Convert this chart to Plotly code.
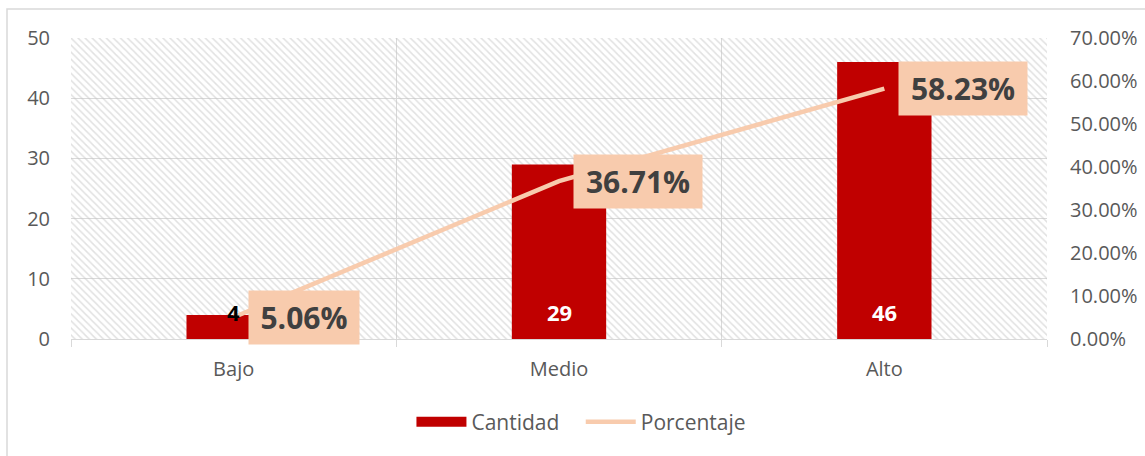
import plotly.graph_objects as go

categorias = ["Bajo", "Medio", "Alto"]
cantidad = [4, 29, 46]
porcentaje = [0.0506, 0.3671, 0.5823]
etiquetas_pct = ["5.06%", "36.71%", "58.23%"]
color_etq = ["#000000", "#ffffff", "#ffffff"]
y_max = 50
y2_max = 0.7

FONT = "Open Sans"
GRID = "#d9d9d9"
RED = "#c00000"
PEACH = "#f8cbad"

fig = go.Figure()

# hatched plot-area background
fig.add_trace(go.Bar(
    x=categorias, y=[y_max] * len(categorias), width=1.0,
    marker=dict(color="rgba(0,0,0,0)", line=dict(width=0),
                pattern=dict(shape="\\", fgcolor="#c4c4c4", bgcolor="rgba(0,0,0,0)",
                             size=5, solidity=0.3)),
    hoverinfo="skip", showlegend=False, xaxis="x", yaxis="y"))

fig.add_trace(go.Bar(
    x=categorias, y=cantidad, name="Cantidad", width=0.29,
    marker=dict(color=RED, line=dict(width=0)), showlegend=False,
    xaxis="x2", yaxis="y"))

# legend swatch for the bars (wide rectangle, as in the original)
fig.add_trace(go.Scatter(
    x=[None], y=[None], name="Cantidad   ", mode="lines",
    line=dict(color=RED, width=14), xaxis="x2", yaxis="y"))

fig.add_trace(go.Scatter(
    x=categorias, y=porcentaje, name="Porcentaje", mode="lines",
    line=dict(color=PEACH, width=4.5),
    xaxis="x2", yaxis="y2"))

annotations = []
for c, v, col in zip(categorias, cantidad, color_etq):
    annotations.append(dict(
        x=c, y=0, xref="x", yref="y", text=f"<b>{v}</b>", showarrow=False,
        yanchor="middle", yshift=27, font=dict(family=FONT, size=22, color=col)))
for c, p, t in zip(categorias, porcentaje, etiquetas_pct):
    annotations.append(dict(
        x=c, y=p, xref="x", yref="y2", text=f"<b>{t}</b>", showarrow=False,
        xanchor="left", yanchor="middle", xshift=14,
        bgcolor=PEACH, borderpad=0, width=len(t) * 18 + 20, height=53,
        font=dict(family=FONT, size=30, color="#404040")))

fig.update_layout(
    width=1145, height=456,
    margin=dict(l=71, r=98, t=38, b=117, autoexpand=False),
    paper_bgcolor="white", plot_bgcolor="white",
    font=dict(family=FONT, color="#595959", size=20),
    barmode="overlay",
    xaxis=dict(type="category", categoryorder="array", categoryarray=categorias,
               range=[-0.5, 2.5], tickson="boundaries", showgrid=True, gridcolor=GRID,
               gridwidth=1, ticks="outside", ticklen=7, tickcolor=GRID,
               showline=True, linecolor=GRID, linewidth=1, ticklabelstandoff=12,
               tickfont=dict(size=20, color="#595959"), automargin=False),
    xaxis2=dict(type="category", categoryorder="array", categoryarray=categorias,
                range=[-0.5, 2.5], overlaying="x", visible=False, automargin=False),
    yaxis=dict(range=[0, y_max], dtick=10, showgrid=True, gridcolor=GRID,
               zeroline=False, showline=False, ticks="", ticklabelstandoff=20,
               tickfont=dict(size=20, color="#595959"), automargin=False),
    yaxis2=dict(range=[0, y2_max], dtick=0.1, tickformat=".2%", overlaying="y",
                side="right", showgrid=False, zeroline=False, showline=False,
                ticklabelstandoff=22, tickfont=dict(size=20, color="#595959"),
                automargin=False),
    legend=dict(orientation="h", x=0.523, y=-0.276, xanchor="center", yanchor="middle",
                font=dict(size=21, color="#595959"), traceorder="normal",
                itemwidth=50),
    annotations=annotations,
    shapes=[dict(type="rect", xref="paper", yref="paper",
                 x0=-64 / 976, x1=1.2, y0=-0.6, y1=1 + 29 / 301,
                 line=dict(color="#d9d9d9", width=1.5), fillcolor="rgba(0,0,0,0)",
                 layer="below")],
)

fig.write_html("out.html", config={"displayModeBar": False},
               post_script="document.body.style.margin='0';")
